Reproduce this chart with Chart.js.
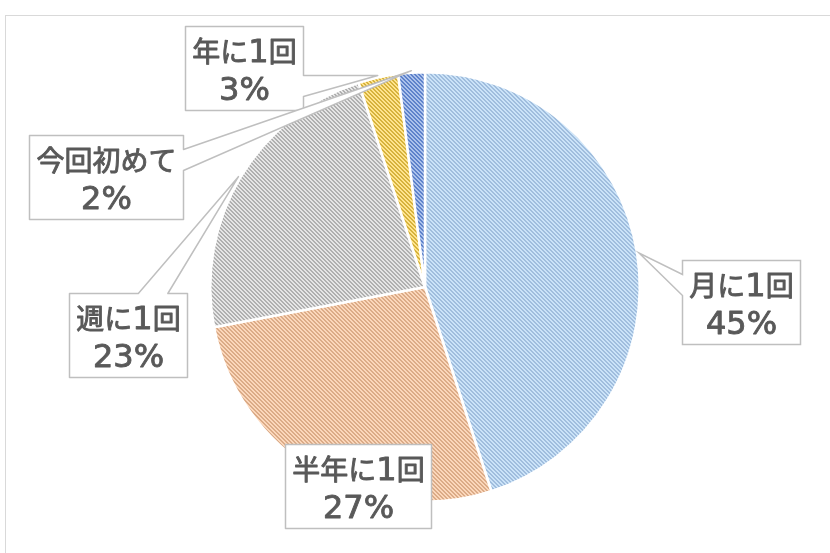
<!DOCTYPE html>
<html>
<head>
<meta charset="utf-8">
<script src="https://cdn.jsdelivr.net/npm/chart.js@4/dist/chart.umd.min.js"></script>
<style>
  html, body { margin: 0; padding: 0; background: #fff; }
  canvas { display: block; }
</style>
</head>
<body>
<canvas id="visitPie" width="830" height="553"></canvas>
<script>
// Chart data
const categories = ['月に1回', '半年に1回', '週に1回', '年に1回', '今回初めて'];
const shares = [45, 27, 23, 3, 2];
const fillColors = ['#cbe3f8', '#fbd7bb', '#e6e6e6', '#ffe48e', '#abc2ec'];
const stripeColors = ['#a0bddd', '#dbab87', '#b0b0b0', '#d6b23c', '#5e82ca'];

// Label box centres (layout only)
const labelCenters = [[740.5, 301.5], [357.5, 485.5], [127.5, 335], [244, 67.5], [105.5, 177]];

const cjkFont = '28px "Noto Sans CJK JP"';
const latinFont = '32px "DejaVu Sans"';

// Build an Excel-like "downward diagonal" pattern fill
function makeStripes(light, dark) {
    const tile = document.createElement('canvas');
    tile.width = 4;
    tile.height = 4;
    const t = tile.getContext('2d');
    t.fillStyle = light;
    t.fillRect(0, 0, 4, 4);
    t.fillStyle = dark;
    for (let y = 0; y < 4; y++) {
        for (let x = 0; x < 4; x++) {
            const d = ((x - y) % 4 + 4) % 4;
            if (d === 0 || d === 1) t.fillRect(x, y, 1, 1);
        }
    }
    return t.createPattern(tile, 'repeat');
}

// Split a label into latin / CJK runs so each gets its own font
function splitRuns(text) {
    const runs = [];
    for (const ch of text) {
        const latin = ch.charCodeAt(0) < 128;
        const last = runs[runs.length - 1];
        if (last && last.latin === latin) last.text += ch;
        else runs.push({ text: ch, latin });
    }
    return runs;
}

function measureRuns(c, text) {
    return splitRuns(text).reduce((sum, run) => {
        c.font = run.latin ? latinFont : cjkFont;
        return sum + c.measureText(run.text).width;
    }, 0);
}

function drawRuns(c, text, cx, baseline) {
    let x = cx - measureRuns(c, text) / 2;
    splitRuns(text).forEach(run => {
        c.font = run.latin ? latinFont : cjkFont;
        c.fillText(run.text, x, baseline);
        c.strokeText(run.text, x, baseline);
        x += c.measureText(run.text).width;
    });
}

const canvas = document.getElementById('visitPie');
const ctx = canvas.getContext('2d');
const patterns = fillColors.map((c, i) => makeStripes(c, stripeColors[i]));

// Outer chart frame
const framePlugin = {
    id: 'frame',
    beforeDraw(chart) {
        const c = chart.ctx;
        c.save();
        c.strokeStyle = '#d9d9d9';
        c.lineWidth = 1;
        c.strokeRect(5.5, 15.5, 900, 700);
        c.restore();
    }
};

// Excel style callout labels with a wedge pointing at the slice
const calloutPlugin = {
    id: 'callouts',
    afterDatasetsDraw(chart) {
        const c = chart.ctx;
        const meta = chart.getDatasetMeta(0);
        c.save();
        meta.data.forEach((arc, i) => {
            const p = arc.getProps(['x', 'y', 'startAngle', 'endAngle', 'outerRadius'], true);
            const mid = (p.startAngle + p.endAngle) / 2;
            const tip = {
                x: p.x + Math.cos(mid) * (p.outerRadius + 2),
                y: p.y + Math.sin(mid) * (p.outerRadius + 2)
            };
            const lines = [categories[i], shares[i] + '%'];
            const w = Math.round(Math.max(...lines.map(s => measureRuns(c, s))) + 14);
            const h = 84;
            const l = Math.round(labelCenters[i][0] - w / 2) + 0.5;
            const t = Math.round(labelCenters[i][1] - h / 2) + 0.5;
            const r = l + w, b = t + h;
            const cx = (l + r) / 2, cy = (t + b) / 2;
            const inside = tip.x >= l && tip.x <= r && tip.y >= t && tip.y <= b;
            let side = null;
            if (!inside) {
                const nx = (tip.x - cx) / (w / 2);
                const ny = (tip.y - cy) / (h / 2);
                side = Math.abs(nx) > Math.abs(ny) ? (nx > 0 ? 'right' : 'left') : (ny > 0 ? 'bottom' : 'top');
            }
            const spanX = tip.x > cx ? [7 / 12, 5 / 6] : [1 / 6, 5 / 12];
            const spanY = tip.y > cy ? [7 / 12, 5 / 6] : [1 / 6, 5 / 12];
            c.beginPath();
            c.moveTo(l, t);
            if (side === 'top') {
                c.lineTo(l + spanX[0] * w, t);
                c.lineTo(tip.x, tip.y);
                c.lineTo(l + spanX[1] * w, t);
            }
            c.lineTo(r, t);
            if (side === 'right') {
                c.lineTo(r, t + spanY[0] * h);
                c.lineTo(tip.x, tip.y);
                c.lineTo(r, t + spanY[1] * h);
            }
            c.lineTo(r, b);
            if (side === 'bottom') {
                c.lineTo(l + spanX[1] * w, b);
                c.lineTo(tip.x, tip.y);
                c.lineTo(l + spanX[0] * w, b);
            }
            c.lineTo(l, b);
            if (side === 'left') {
                c.lineTo(l, t + spanY[1] * h);
                c.lineTo(tip.x, tip.y);
                c.lineTo(l, t + spanY[0] * h);
            }
            c.closePath();
            c.fillStyle = '#ffffff';
            c.fill();
            c.strokeStyle = '#bfbfbf';
            c.lineWidth = 1.5;
            c.stroke();
            // Texts (thin outline gives a medium weight)
            c.fillStyle = '#595959';
            c.strokeStyle = '#595959';
            c.lineWidth = 0.9;
            c.lineJoin = 'round';
            c.textAlign = 'left';
            c.textBaseline = 'alphabetic';
            drawRuns(c, lines[0], cx, cy - 7);
            drawRuns(c, lines[1], cx, cy + 31);
        });
        c.restore();
    }
};

new Chart(ctx, {
    type: 'pie',
    plugins: [framePlugin, calloutPlugin],
    data: {
        labels: categories,
        datasets: [{
            data: shares,
            backgroundColor: patterns,
            borderColor: '#ffffff',
            borderWidth: 2.5,
        }],
    },
    options: {
        responsive: false,
        animation: false,
        layout: {
            padding: { left: 209, right: 189, top: 71, bottom: 50 }
        },
        plugins: {
            legend: { display: false },
            tooltip: { enabled: false },
        },
    },
});
</script>
</body>
</html>
